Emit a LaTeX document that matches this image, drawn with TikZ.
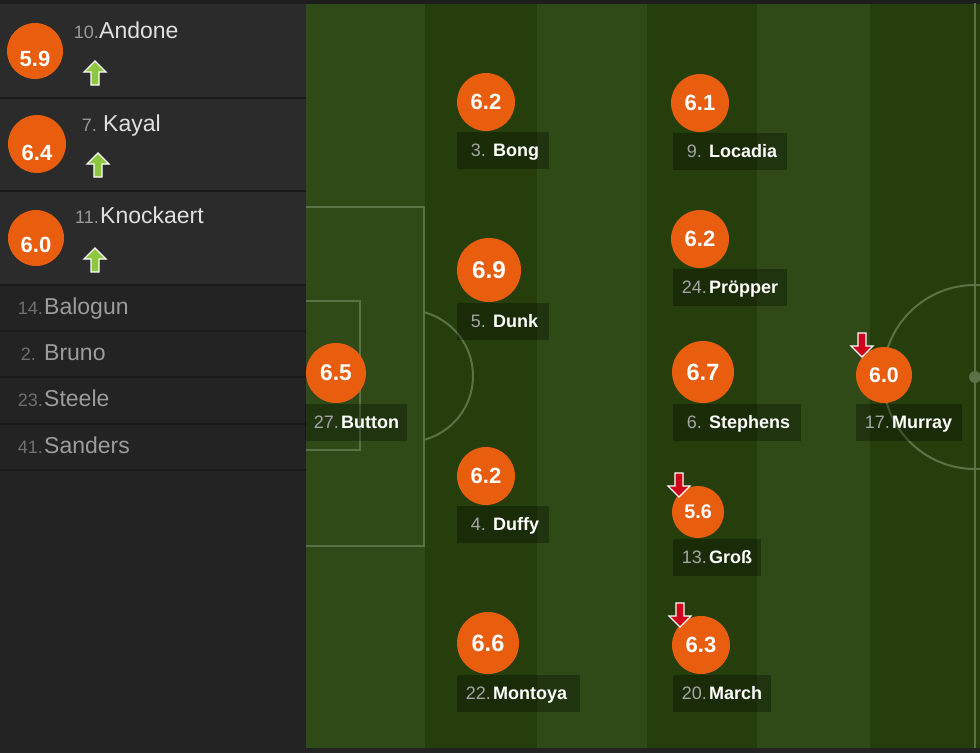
\documentclass[tikz,border=0pt]{standalone}
\usepackage{fontspec}
\setmainfont{Liberation Sans}
\usetikzlibrary{calc}
\definecolor{panel}{HTML}{2B2B2B}
\definecolor{panellow}{HTML}{232323}
\definecolor{topdark}{HTML}{1E1E1E}
\definecolor{sepc}{HTML}{1A1A1A}
\definecolor{grassL}{HTML}{2F4917}
\definecolor{grassD}{HTML}{253E0B}
\definecolor{pline}{HTML}{5A7246}
\definecolor{rate}{HTML}{E95D0F}
\definecolor{upg}{HTML}{8DC63F}
\definecolor{downr}{HTML}{D0021B}
\definecolor{numgrey}{HTML}{A5A5A5}
\definecolor{subname}{HTML}{E0E0E0}
\definecolor{subnum}{HTML}{9A9A9A}
\definecolor{listname}{HTML}{9C9C9C}
\definecolor{listnum}{HTML}{707070}
\newcommand\plyr[9]{%
  \pgfmathsetmacro\rfs{#4*0.38}%
  \node[ratingc, minimum size=#4, font=\bfseries\fontsize{\rfs}{\rfs}\selectfont] (#1) at (#2,#3) {#5};
  \node[lbox, minimum width=#7] (#1box) at (#6,#3+#4/2+1) {};
  \node[numtxt] (#1num) at ($(#1box.west)+(34,6)$) {#8};
  \node[nametxt] (#1name) at ($(#1box.west)+(36,6)$) {#9};
}
\begin{document}
\begin{tikzpicture}[x=1pt,y=-1pt,
  ratingc/.style={circle, fill=rate, inner sep=0, text=white},
  lbox/.style={fill=black, fill opacity=0.28, anchor=north west, minimum height=37, inner sep=0},
  numtxt/.style={anchor=base east, inner sep=0, text=numgrey, font=\fontsize{18}{18}\selectfont},
  nametxt/.style={anchor=base west, inner sep=0, text=white, font=\bfseries\fontsize{18}{18}\selectfont},
  subc/.style={circle, fill=rate, inner sep=0},
  subrt/.style={inner sep=0, text=white, font=\bfseries\fontsize{22}{22}\selectfont},
  subnumtxt/.style={anchor=base east, inner sep=0, text=subnum, font=\fontsize{18}{18}\selectfont},
  subnametxt/.style={anchor=base west, inner sep=0, text=subname, font=\fontsize{23}{23}\selectfont},
  listnumtxt/.style={anchor=base east, inner sep=0, text=listnum, font=\fontsize{18}{18}\selectfont},
  listnametxt/.style={anchor=base west, inner sep=0, text=listname, font=\fontsize{23}{23}\selectfont},
  sepline/.style={draw=sepc, line width=2},
  pitchline/.style={draw=pline, line width=2},
  uparr/.pic={\filldraw[fill=upg, draw=white, line width=1.1] (0,-12) -- (11,-1) -- (4,-1) -- (4,12) -- (-4,12) -- (-4,-1) -- (-11,-1) -- cycle;},
  downarr/.pic={\filldraw[fill=downr, draw=white, line width=1.1] (0,12) -- (11,1) -- (4,1) -- (4,-12) -- (-4,-12) -- (-4,1) -- (-11,1) -- cycle;}
]
\useasboundingbox (0,0) rectangle (980,753);
% backgrounds
\fill[panellow] (0,0) rectangle (980,753);
\fill[panel] (0,0) rectangle (306,285);
% pitch stripes
\fill[grassL] (306,3) rectangle (425,748);
\fill[grassD] (425,3) rectangle (537,748);
\fill[grassL] (537,3) rectangle (647,748);
\fill[grassD] (647,3) rectangle (757,748);
\fill[grassL] (757,3) rectangle (870,748);
\fill[grassD] (870,3) rectangle (980,748);
\fill[topdark] (0,0) rectangle (980,4);
% separators in panel
\foreach \yy in {98,191,285,331,377,424,470} { \draw[sepline] (0,\yy) -- (306,\yy); }
% pitch lines
\begin{scope}
  \clip (306,3) rectangle (980,748);
  \draw[pitchline] (306,207) -- (424,207) -- (424,546) -- (306,546);
  \draw[pitchline] (306,301) -- (360,301) -- (360,450) -- (306,450);
  \begin{scope}
    \clip (425,3) rectangle (980,748);
    \draw[pitchline] (407,376) circle[radius=66];
  \end{scope}
  \draw[pitchline] (975,3) -- (975,748);
  \draw[pitchline] (975,377) circle[radius=92];
  \fill[pline] (975,377) circle[radius=6];
\end{scope}
% substitutes (top)
\node[subc, minimum size=56] (s1) at (35,51) {};
\node[subrt] (s1r) at ($(s1)+(0,8)$) {5.9};
\node[subnumtxt] (s1n) at (99,38) {10.};
\node[subnametxt] (s1m) at (99,38) {Andone};
\pic at (95,73) {uparr};
\node[subc, minimum size=58] (s2) at (37,144) {};
\node[subrt] (s2r) at ($(s2)+(0,9)$) {6.4};
\node[subnumtxt] (s2n) at (97,131) {7.};
\node[subnametxt] (s2m) at (103,131) {Kayal};
\pic at (98,165) {uparr};
\node[subc, minimum size=56] (s3) at (36,238) {};
\node[subrt] (s3r) at ($(s3)+(0,7)$) {6.0};
\node[subnumtxt] (s3n) at (99,223) {11.};
\node[subnametxt] (s3m) at (100,223) {Knockaert};
\pic at (95,260) {uparr};
% list
\node[listnumtxt] (l1n) at (43,314) {14.};
\node[listnametxt] (l1m) at (44,314) {Balogun};
\node[listnumtxt] (l2n) at (36,360) {2.};
\node[listnametxt] (l2m) at (44,360) {Bruno};
\node[listnumtxt] (l3n) at (43,406) {23.};
\node[listnametxt] (l3m) at (44,406) {Steele};
\node[listnumtxt] (l4n) at (43,453) {41.};
\node[listnametxt] (l4m) at (44,453) {Sanders};
% players
\plyr{button}{336}{373}{60}{6.5}{305}{102}{27.}{Button}
\plyr{bong}{486}{102}{58}{6.2}{457}{92}{3.\kern5pt}{Bong}
\plyr{dunk}{489}{270}{64}{6.9}{457}{92}{5.\kern5pt}{Dunk}
\plyr{duffy}{486}{476}{58}{6.2}{457}{92}{4.\kern5pt}{Duffy}
\plyr{montoya}{488}{643}{62}{6.6}{457}{123}{22.}{Montoya}
\plyr{locadia}{700}{103}{58}{6.1}{673}{114}{9.\kern5pt}{Locadia}
\plyr{propper}{700}{239}{58}{6.2}{673}{114}{24.}{Pröpper}
\plyr{stephens}{703}{372}{62}{6.7}{673}{128}{6.\kern5pt}{Stephens}
\plyr{gross}{698}{512}{52}{5.6}{673}{88}{13.}{Groß}
\plyr{march}{701}{645}{58}{6.3}{673}{98}{20.}{March}
\plyr{murray}{884}{375}{56}{6.0}{856}{106}{17.}{Murray}
% substitution arrows on pitch
\pic at (862,345) {downarr};
\pic at (679,485) {downarr};
\pic at (680,615) {downarr};
\end{tikzpicture}
\end{document}
